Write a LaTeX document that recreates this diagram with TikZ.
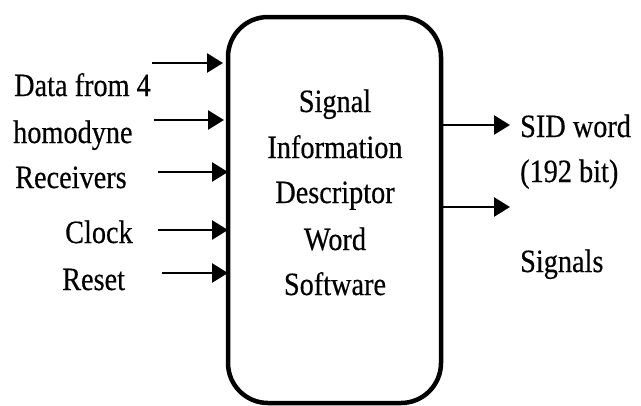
\documentclass[tikz,border=0pt]{standalone}
\usepackage{fontspec}
\setmainfont{Liberation Serif}[FakeStretch=0.87,FakeBold=0.4]
\usetikzlibrary{arrows.meta}
\begin{document}
\begin{tikzpicture}[x=1pt,y=-1pt,
  lbl/.style={inner sep=0pt, anchor=base west, font=\fontsize{32.5}{39}\selectfont},
  ctr/.style={inner sep=0pt, anchor=base, font=\fontsize{32.5}{39}\selectfont},
  arr/.style={line width=2.6pt, -{Triangle[length=16pt,width=19pt]}},
  blk/.style={draw, line width=4.5pt, rounded corners=40pt}]
\useasboundingbox (0,0) rectangle (641,405);
% block
\draw[blk] (228,17) rectangle (441,403);
\coordinate (bw) at (228,200);
\coordinate (be) at (441,200);
% centre text
\node[ctr] (c1) at (335,112) {Signal};
\node[ctr] (c2) at (335,158) {Information};
\node[ctr] (c3) at (335,203) {Descriptor};
\node[ctr] (c4) at (335,250) {Word};
\node[ctr] (c5) at (335,295) {Software};
% left labels
\node[lbl] (l1) at (14,96) {Data from 4};
\node[lbl] (l2) at (13,143) {homodyne};
\node[lbl] (l3) at (15,188) {Receivers};
\node[lbl] (l4) at (65,243) {Clock};
\node[lbl] (l5) at (62,290) {Reset};
% right labels
\node[lbl] (r1) at (520,137) {SID word};
\node[lbl] (r2) at (520,182) {(192 bit)};
\node[lbl] (r3) at (520,272) {Signals};
% input arrow starts
\coordinate (s1) at (152,63);
\coordinate (s2) at (154,120);
\coordinate (s3) at (158,172);
\coordinate (s4) at (158,230);
\coordinate (s5) at (162,273);
\draw[arr, shorten >=5pt] (s1) -- (s1 -| bw);
\draw[arr, shorten >=4pt] (s2) -- (s2 -| bw);
\draw[arr] (s3) -- (s3 -| bw);
\draw[arr] (s4) -- (s4 -| bw);
\draw[arr] (s5) -- (s5 -| bw);
% outputs
\coordinate (o1) at (510,125);
\coordinate (o2) at (510,207);
\draw[arr] (o1 -| be) -- (o1);
\draw[arr] (o2 -| be) -- (o2);
\end{tikzpicture}
\end{document}
